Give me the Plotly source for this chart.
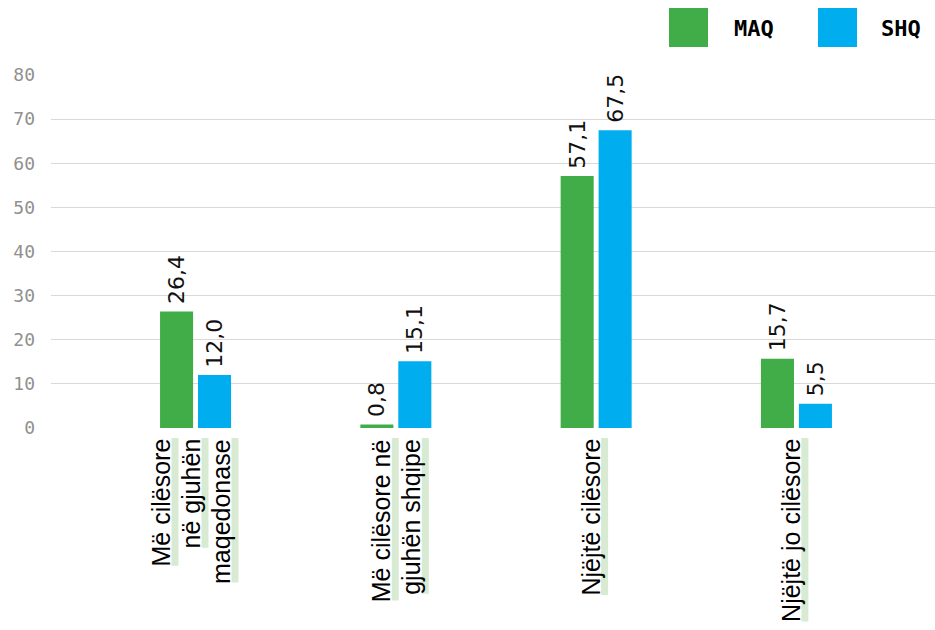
import plotly.graph_objects as go

# ---- data ----
categories = ["Më cilësore në gjuhën maqedonase", "Më cilësore në gjuhën shqipe",
              "Njëjtë cilësore", "Njëjtë jo cilësore"]
category_lines = [["Më cilësore", "në gjuhën", "maqedonase"],
                  ["Më cilësore në", "gjuhën shqipe"],
                  ["Njëjtë cilësore"],
                  ["Njëjtë jo cilësore"]]
series_names = ["MAQ", "SHQ"]
maq_values = [26.4, 0.8, 57.1, 15.7]
shq_values = [12.0, 15.1, 67.5, 5.5]
y_ticks = [0, 10, 20, 30, 40, 50, 60, 70, 80]

# ---- style ----
colors = ["#41AD49", "#00AEEF"]
highlight = "#D9EAD3"
label_font = "Liberation Sans"
num_font = "DejaVu Sans"
mono_font = "DejaVu Sans Mono"
label_size = 25
# baseline offsets (px) of each label line relative to category centre
line_baselines = [[-25, 5, 35], [-5, 25], [4], [4]]

# Arial / Liberation Sans advance widths (per 1000 em) for highlight lengths
adv = {"M": 833, "ë": 556, " ": 278, "c": 500, "i": 222, "l": 222, "s": 500,
       "o": 556, "r": 333, "e": 556, "n": 556, "g": 556, "j": 222, "u": 556,
       "h": 556, "m": 833, "a": 556, "q": 556, "d": 556, "p": 556, "N": 722,
       "t": 278}


def text_width(s, size):
    return sum(adv.get(ch, 556) for ch in s) * size / 1000.0


xpos = list(range(len(categories)))

fig = go.Figure()
for name, vals, col, off in [(series_names[0], maq_values, colors[0], -0.177),
                             (series_names[1], shq_values, colors[1], 0.0125)]:
    fig.add_trace(go.Bar(
        x=xpos, y=vals, name=name, marker=dict(color=col, line=dict(width=0)),
        width=0.165, offset=off,
        texttemplate="\u2009%{y:.1f}", textposition="outside", textangle=-90,
        textfont=dict(family=num_font, size=22, color="#111111"),
        constraintext="none", cliponaxis=False, hoverinfo="skip",
        showlegend=False,
    ))

annotations = []
shapes = []
for ci, lines in enumerate(category_lines):
    for li, line in enumerate(lines):
        b = line_baselines[ci][li]
        L = text_width(line, label_size)
        shapes.append(dict(
            type="rect", xref="x", yref="paper", xsizemode="pixel", ysizemode="pixel",
            xanchor=ci, yanchor=0, x0=b + 1, x1=b + 8, y0=-10, y1=-10 - L,
            fillcolor=highlight, line=dict(width=0), layer="below",
        ))
        annotations.append(dict(
            text=line, x=ci, xref="x", y=0, yref="paper", xanchor="right",
            yanchor="top", xshift=b + 6, yshift=-9, textangle=-90, showarrow=False,
            font=dict(family=label_font, size=label_size, color="#000000"),
        ))

# legend drawn as squares + text
legend_sq = [(-266, -227), (-117, -78)]
legend_tx = [-203, -56]
for i, name in enumerate(series_names):
    shapes.append(dict(
        type="rect", xref="paper", yref="paper", xsizemode="pixel", ysizemode="pixel",
        xanchor=1, yanchor=1, x0=legend_sq[i][0], x1=legend_sq[i][1], y0=28, y1=67,
        fillcolor=colors[i], line=dict(width=0),
    ))
    annotations.append(dict(
        text="<b>" + name + "</b>", x=1, xref="paper", y=1, yref="paper",
        xanchor="left", yanchor="middle", xshift=legend_tx[i], yshift=47,
        showarrow=False, font=dict(family=mono_font, size=22, color="#000000"),
    ))

fig.update_layout(
    width=935, height=630, margin=dict(l=51, r=0, t=75, b=202),
    paper_bgcolor="white", plot_bgcolor="white",
    separators=", ",
    showlegend=False,
    xaxis=dict(range=[-0.7214, 3.692], showticklabels=False, showgrid=False,
               zeroline=False, showline=False, ticks=""),
    yaxis=dict(range=[0, 80], tickvals=y_ticks, showgrid=True, gridcolor="#D9D9D9",
               gridwidth=1, zeroline=False, showline=False, ticks="",
               ticklabelstandoff=15,
               tickfont=dict(family=mono_font, size=18, color="#909090")),
    annotations=annotations, shapes=shapes,
)

fig.write_html("out.html")
